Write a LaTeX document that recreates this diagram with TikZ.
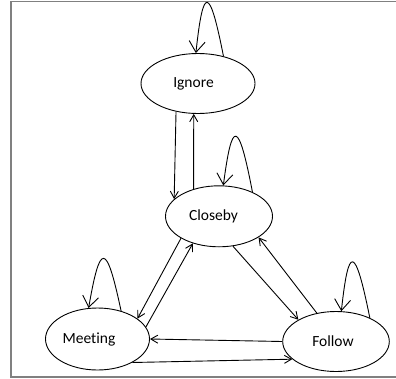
\documentclass[tikz,border=0pt]{standalone}
\usepackage{fontspec}
\setmainfont{Carlito}[Ligatures=NoCommon]
\usetikzlibrary{shapes.geometric,arrows.meta}
\begin{document}
\begin{tikzpicture}[x=1pt,y=-1pt,
  state/.style={draw=black,line width=0.9pt,shape=ellipse,inner sep=0pt,
    font=\fontsize{15.5}{18}\selectfont},
  conn/.style={draw=black,line width=0.9pt},
  arrsmall/.style={conn,-{Straight Barb[length=7pt,width=8pt,line width=0.9pt]}},
  arrbig/.style={conn,-{Straight Barb[length=11pt,width=16pt,line width=0.9pt]}}]
\useasboundingbox (0,0) rectangle (396,378);
\draw[draw={rgb,255:red,128;green,128;blue,128},line width=1.3pt]
  (396,1.5) -- (11,1.5) -- (11,377) -- (396,377);

\node[state,minimum width=114pt,minimum height=60pt] (ign) at (198,83.5) {Ignore\hspace*{9pt}};
\node[state,minimum width=107pt,minimum height=61pt] (cb) at (219,216.3) {Closeby\hspace*{11pt}};
\node[state,minimum width=104pt,minimum height=62pt] (meet) at (97.5,339) {Meeting\hspace*{17pt}};
\node[state,minimum width=106.6pt,minimum height=60pt] (fol) at (336,341.5) {Follow\hspace*{6pt}};

% Ignore <-> Closeby
\draw[arrsmall] (ign.232) -- (cb.159.2);
\draw[arrsmall] (cb.133.6) -- (ign.262.5);

% self loops
\draw[arrbig] (ign.47) .. controls +(-14,-71) and +(7.3,-68) .. (ign.94);
\draw[arrbig] (cb.36) .. controls +(-14,-73) and +(8.7,-66.7) .. (cb.82);
\draw[arrbig] (meet.50) .. controls +(-14.7,-69.3) and +(11.5,-66.5) .. (meet.106.8);
\draw[arrbig] (fol.35.1) .. controls +(-14.8,-73.3) and +(7.2,-66.8) .. (fol.80.5);

% Closeby <-> Meeting
\draw[arrsmall] (cb.210) -- (meet.27.5);
\draw[arrsmall] (meet.14.9) -- (cb.226.1);

% Closeby <-> Follow
\draw[arrsmall] (cb.295.5) -- (fol.150.6);
\draw[arrsmall] (fol.124.6) -- (cb.332.2);

% Meeting <-> Follow
\draw[arrsmall] (fol.west) -- (meet.east);
\draw[arrsmall] (meet.326.6) -- (fol.202);
\end{tikzpicture}
\end{document}
